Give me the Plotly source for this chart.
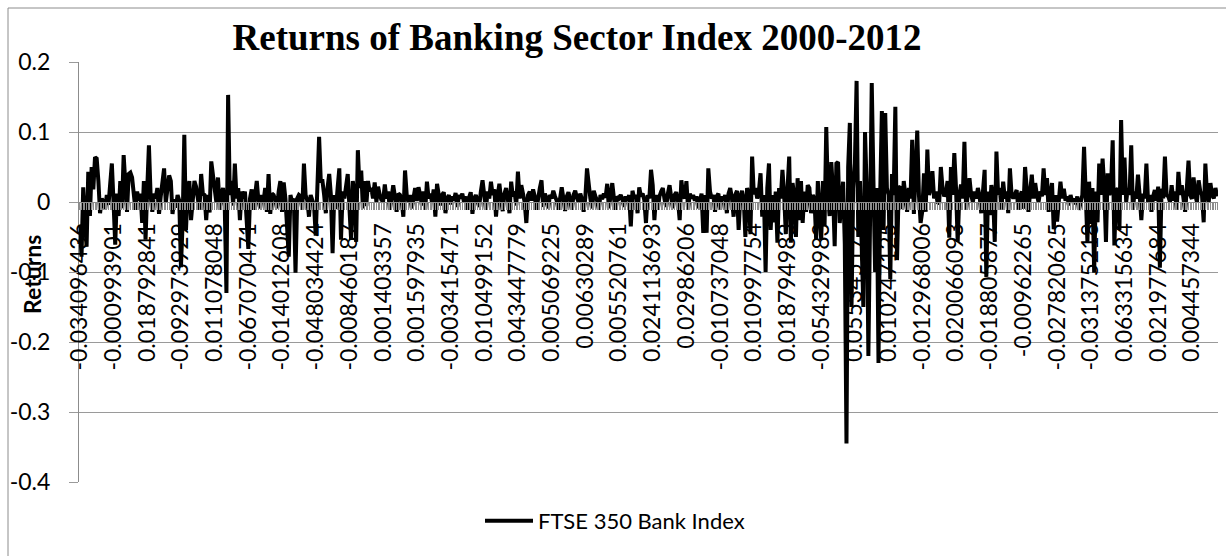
import plotly.graph_objects as go

# Weekly returns of the FTSE 350 Bank index, 2000-2012 (one value per week)
returns = [
    # weeks 0-19
    -0.034096436, -0.078, 0.021, -0.012, -0.064, 0.043, -0.02, 0.050, 0.018, 0.064,
    0.062, 0.030, -0.016, 0.005, 0.000, -0.010, 0.010, -0.004, 0.020, 0.055,
    # weeks 20-39
    -0.000993901, -0.061, 0.012, -0.020, 0.030, -0.009, 0.067, 0.020, -0.014, 0.040,
    0.042, 0.035, 0.005, -0.011, 0.015, 0.002, 0.012, -0.030, 0.030, -0.054,
    # weeks 40-59
    0.018792841, 0.081, 0.010, -0.014, 0.012, 0.005, 0.020, -0.017, 0.008, 0.025,
    0.048, -0.001, 0.020, 0.038, 0.030, -0.017, 0.004, -0.008, 0.010, 0.002,
    # weeks 60-79
    -0.092973929, -0.030, 0.096, -0.040, 0.015, 0.030, -0.026, 0.010, 0.030, 0.022,
    0.005, -0.011, 0.040, 0.012, 0.010, -0.026, 0.010, -0.015, 0.058, 0.035,
    # weeks 80-99
    0.011078048, 0.000, 0.035, -0.011, 0.012, 0.020, -0.005, -0.130, 0.153, 0.010,
    0.030, -0.005, 0.055, 0.005, 0.020, -0.026, 0.015, 0.005, 0.015, -0.035,
    # weeks 100-119
    -0.067070471, 0.005, 0.018, -0.011, 0.015, 0.030, 0.002, -0.009, 0.010, 0.000,
    0.020, -0.014, 0.040, -0.017, 0.012, 0.010, 0.003, -0.009, 0.015, 0.030,
    # weeks 120-139
    -0.014012608, 0.028, 0.005, -0.030, -0.078, 0.010, 0.000, 0.005, -0.101, 0.005,
    0.010, 0.008, -0.011, 0.055, 0.010, 0.002, -0.021, 0.010, 0.000, -0.005,
    # weeks 140-159
    -0.048034424, 0.010, 0.093, 0.030, 0.030, 0.010, -0.016, 0.020, 0.040, 0.010,
    -0.073, 0.010, -0.010, 0.020, 0.048, -0.054, 0.015, 0.005, 0.020, 0.040,
    # weeks 160-179
    -0.008460187, -0.054, 0.030, 0.010, -0.057, 0.074, 0.020, 0.045, -0.009, 0.030,
    -0.006, 0.030, 0.015, 0.020, 0.005, 0.028, 0.000, 0.022, 0.010, 0.003,
    # weeks 180-199
    0.001403357, 0.025, 0.005, 0.015, -0.011, 0.010, 0.024, 0.008, -0.014, 0.012,
    0.010, 0.002, -0.021, 0.045, 0.010, 0.000, 0.010, -0.009, 0.008, 0.020,
    # weeks 200-219
    0.001597935, 0.021, 0.010, -0.005, 0.015, -0.011, 0.029, 0.005, 0.012, 0.000,
    0.018, -0.021, 0.026, 0.008, -0.005, 0.010, 0.014, -0.016, 0.005, 0.010,
    # weeks 220-239
    -0.003415471, 0.008, 0.002, 0.013, -0.007, 0.010, 0.005, 0.012, 0.000, 0.008,
    -0.011, 0.006, 0.014, -0.017, 0.005, 0.010, 0.000, -0.007, 0.015, 0.031,
    # weeks 240-259
    0.010499152, -0.011, 0.015, 0.005, 0.029, 0.010, 0.018, -0.021, 0.010, 0.026,
    0.004, -0.013, 0.012, 0.020, 0.005, -0.016, 0.029, 0.008, 0.015, -0.005,
    # weeks 260-279
    0.043447779, 0.005, 0.024, 0.013, 0.000, -0.030, 0.010, 0.015, 0.002, 0.018,
    0.008, -0.011, 0.010, 0.020, 0.031, -0.007, 0.012, 0.005, -0.009, 0.010,
    # weeks 280-299
    0.005069225, 0.016, 0.008, 0.002, -0.011, 0.010, 0.021, 0.005, -0.013, 0.008,
    0.014, 0.003, -0.011, 0.010, 0.016, 0.006, 0.000, 0.012, 0.004, -0.014,
    # weeks 300-319
    0.00630289, 0.048, 0.020, 0.005, -0.009, 0.016, 0.008, 0.002, -0.011, 0.010,
    0.004, 0.012, 0.006, 0.026, -0.009, 0.010, 0.027, 0.005, -0.011, 0.008,
    # weeks 320-339
    0.005520761, 0.010, 0.004, -0.007, 0.008, 0.002, 0.010, -0.035, 0.016, 0.005,
    0.010, -0.016, 0.021, 0.008, 0.012, 0.003, -0.030, 0.010, 0.005, 0.046,
    # weeks 340-359
    0.024113693, -0.026, 0.010, -0.011, 0.008, 0.015, 0.020, 0.004, -0.007, 0.012,
    0.024, 0.006, -0.009, 0.010, 0.014, 0.002, -0.026, 0.031, 0.010, 0.005,
    # weeks 360-379
    0.02986206, -0.011, 0.012, 0.005, 0.010, 0.002, 0.008, -0.009, 0.006, 0.012,
    -0.044, 0.010, -0.044, 0.048, 0.015, 0.005, 0.010, -0.014, 0.008, 0.012,
    # weeks 380-399
    -0.010737048, 0.008, 0.002, 0.010, -0.016, 0.012, 0.020, 0.006, -0.021, 0.010,
    0.016, -0.040, 0.008, 0.016, 0.004, -0.050, 0.020, 0.010, -0.046, 0.065,
    # weeks 400-419
    0.010997754, 0.020, 0.005, 0.015, 0.041, -0.021, 0.010, -0.100, 0.020, 0.055,
    -0.040, 0.010, -0.029, 0.015, -0.058, 0.020, 0.005, 0.046, 0.010, -0.046,
    # weeks 420-439
    0.018794983, 0.065, -0.058, 0.027, 0.010, -0.050, 0.034, -0.026, 0.030, -0.030,
    0.015, -0.014, 0.024, 0.020, -0.016, 0.010, 0.005, -0.054, 0.030, -0.030,
    # weeks 440-459
    -0.054329983, 0.030, -0.034, 0.107, 0.010, -0.020, 0.057, 0.015, -0.063, 0.055,
    0.057, -0.030, 0.005, 0.029, -0.060, -0.345, 0.050, 0.113, -0.150, 0.020,
    # weeks 460-479
    0.055345172, 0.173, -0.050, 0.030, -0.060, -0.150, 0.100, 0.020, -0.220, 0.050,
    0.170, 0.030, -0.100, 0.020, -0.230, 0.010, 0.130, -0.040, 0.127, 0.020,
    # weeks 480-499
    0.010247125, -0.110, 0.040, 0.010, 0.136, -0.083, 0.020, 0.022, -0.010, 0.030,
    0.010, -0.014, 0.020, 0.005, 0.089, -0.017, 0.040, 0.102, 0.010, -0.030,
    # weeks 500-519
    -0.012968006, 0.041, -0.014, 0.075, 0.010, 0.020, 0.044, 0.005, 0.015, 0.000,
    -0.003, 0.050, 0.020, 0.008, 0.013, 0.030, -0.051, 0.050, 0.010, 0.070,
    # weeks 520-539
    0.020066093, -0.057, 0.010, 0.025, 0.005, 0.086, -0.011, 0.015, 0.034, 0.010,
    0.000, 0.015, 0.005, 0.020, 0.008, -0.016, 0.010, 0.046, -0.107, 0.015,
    # weeks 540-559
    -0.018805877, 0.024, 0.010, -0.057, 0.072, 0.010, 0.020, -0.011, 0.029, 0.005,
    0.015, -0.016, 0.048, 0.010, 0.005, 0.012, 0.017, -0.011, 0.008, 0.015,
    # weeks 560-579
    -0.00962265, 0.050, 0.010, -0.014, 0.015, 0.039, 0.005, 0.027, 0.010, 0.000,
    0.015, 0.008, 0.048, 0.010, 0.034, -0.014, 0.012, 0.027, -0.039, 0.010,
    # weeks 580-599
    -0.027820625, 0.010, 0.029, 0.005, 0.019, 0.002, 0.008, -0.005, 0.010, 0.000,
    0.005, -0.003, 0.008, -0.011, 0.004, 0.010, 0.079, 0.010, -0.057, 0.029,
    # weeks 600-619
    -0.031375218, 0.020, -0.101, 0.015, -0.029, 0.055, 0.010, 0.062, 0.020, -0.057,
    0.041, 0.010, 0.020, 0.088, -0.062, 0.015, 0.020, -0.040, 0.117, 0.010,
    # weeks 620-639
    0.063315634, 0.000, 0.020, 0.010, 0.081, -0.011, 0.015, 0.005, 0.039, 0.010,
    -0.026, 0.012, 0.005, 0.055, 0.000, 0.010, -0.014, 0.008, 0.017, 0.002,
    # weeks 640-659
    0.021977684, -0.094, 0.019, 0.005, 0.065, 0.010, 0.008, 0.000, 0.024, 0.002,
    0.015, -0.011, 0.043, 0.010, 0.024, 0.005, -0.014, 0.020, 0.059, 0.010,
    # weeks 660-675
    0.004457344, 0.035, 0.010, 0.000, 0.031, 0.015, 0.010, -0.029, 0.055, 0.010,
    0.000, 0.027, 0.010, 0.005, 0.020, 0.008,
]

# Category labels shown on the x axis (every 20th week)
tick_step = 20
tick_labels = [
    "-0.034096436", "-0.000993901", "0.018792841", "-0.092973929", "0.011078048",
    "-0.067070471", "-0.014012608", "-0.048034424", "-0.008460187", "0.001403357",
    "0.001597935", "-0.003415471", "0.010499152", "0.043447779", "0.005069225",
    "0.00630289", "0.005520761", "0.024113693", "0.02986206", "-0.010737048",
    "0.010997754", "0.018794983", "-0.054329983", "0.055345172", "0.010247125",
    "-0.012968006", "0.020066093", "-0.018805877", "-0.00962265", "-0.027820625",
    "-0.031375218", "0.063315634", "0.021977684", "0.004457344",
]

y_ticks = [-0.4, -0.3, -0.2, -0.1, 0.0, 0.1, 0.2]
y_tick_text = ["-0.4", "-0.3", "-0.2", "-0.1", "0", "0.1", "0.2"]

W, H = 1226, 556
ML, MR, MT, MB = 79, 8, 62, 74
PW, PH = W - ML - MR, H - MT - MB

GRID = "#9a9a9a"
AXIS = "#8c8c8c"
SANS = "Lato"

weeks = list(range(len(returns)))
tickvals = [i * tick_step for i in range(len(tick_labels))]


def px_x(px):
    return (px - ML) / PW


def px_y(py):
    return (H - MB - py) / PH


fig = go.Figure()
fig.add_trace(go.Scatter(
    x=weeks, y=returns, mode="lines",
    line=dict(color="black", width=4),
    name="FTSE 350 Bank Index",
))

y_min, y_max = -0.4, 0.2
fig.update_layout(
    width=W, height=H,
    margin=dict(l=ML, r=MR, t=MT, b=MB, pad=0),
    paper_bgcolor="white", plot_bgcolor="white",
    showlegend=True,
    title=dict(
        text="Returns of Banking Sector Index 2000-2012",
        font=dict(family="Liberation Serif", size=37, color="black", weight="bold"),
        x=577 / W, xanchor="center", y=1 - 37 / H, yanchor="middle",
    ),
    xaxis=dict(
        range=[-0.5, len(returns) - 0.5],
        anchor="free", position=(0 - y_min) / (y_max - y_min),
        showgrid=False, zeroline=False,
        showline=True, linecolor=AXIS, linewidth=1,
        tickmode="array", tickvals=tickvals, ticktext=tick_labels,
        tickangle=-90, ticks="outside", ticklen=7, tickcolor=AXIS, tickwidth=1,
        ticklabelstandoff=4,
        tickfont=dict(family=SANS, size=23, color="black"),
        minor=dict(tickmode="linear", tick0=0, dtick=1, ticks="outside",
                   ticklen=7, tickcolor=AXIS, tickwidth=1, showgrid=False),
    ),
    yaxis=dict(
        range=[y_min, y_max],
        tickmode="array", tickvals=y_ticks, ticktext=y_tick_text,
        showgrid=True, gridcolor=GRID, gridwidth=1, zeroline=False,
        showline=True, linecolor=AXIS, linewidth=1,
        ticks="outside", ticklen=9, tickcolor=GRID,
        ticklabelstandoff=14,
        tickfont=dict(family=SANS, size=23, color="black"),
    ),
    legend=dict(
        orientation="h", x=px_x(480), y=px_y(521), xanchor="left", yanchor="middle",
        font=dict(family=SANS, size=22, color="black"),
        itemwidth=48, bgcolor="rgba(0,0,0,0)",
    ),
    annotations=[dict(
        text="Returns", textangle=-90, showarrow=False,
        xref="paper", yref="paper", x=px_x(32), y=px_y(275),
        xanchor="center", yanchor="middle",
        font=dict(family=SANS, size=23, color="black", weight="bold"),
    )],
    shapes=[dict(
        type="rect", xref="paper", yref="paper", layer="below",
        x0=px_x(8), x1=px_x(1245), y0=px_y(600), y1=px_y(8),
        line=dict(color="#8c8c8c", width=1), fillcolor="rgba(0,0,0,0)",
    )],
)

fig.write_html("out.html")
